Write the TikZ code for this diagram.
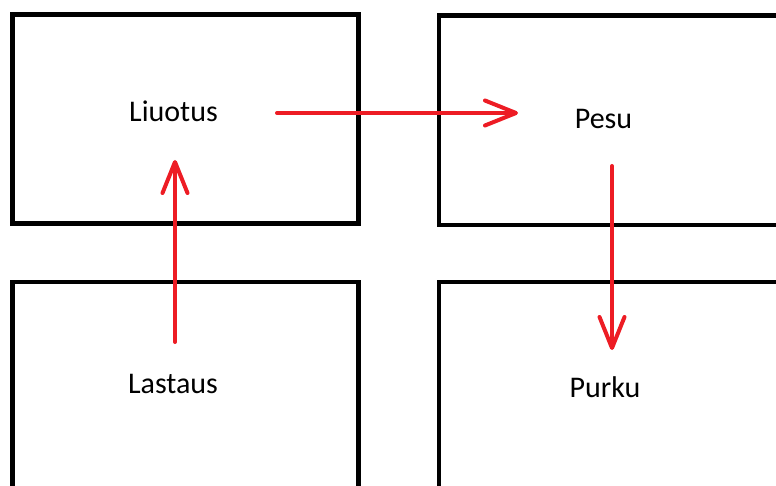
\documentclass[tikz,border=0pt]{standalone}
\usepackage{fontspec}
\setmainfont{Carlito}
\usetikzlibrary{arrows.meta, positioning}
\definecolor{paintred}{RGB}{237,28,36}

\begin{document}
\begin{tikzpicture}[x=1pt, y=-1pt,
    stage/.style={draw=black, line width=4.7pt},
    flow/.style={draw=paintred, line width=4pt, line cap=round, -{Straight Barb[length=31pt, width=25pt, line cap=round, line join=round]}},
    word/.style={text=black, font=\fontsize{30}{36}\selectfont, anchor=base, inner sep=0pt}]
    \useasboundingbox (0,0) rectangle (776,486);
    \clip (0,0) rectangle (776,486);
    \draw[stage] (12.5,14.5) rectangle (358.5,223.5);%upper left box
    \draw[stage] (439,15.5) rectangle (800,225);%upper right box
    \draw[stage] (12.5,282) rectangle (358.5,520);%lower left box
    \draw[stage] (439,282) rectangle (800,520);%lower right box
    \node (liuotus) [word] at (173.5,121.5) {Liuotus};%dissolving
    \node (pesu) [word] at (603.5,129) {Pesu};%washing
    \node (lastaus) [word] at (173,393.5) {Lastaus};%loading
    \node (purku) [word] at (605,397) {Purku};%unloading
    \coordinate (l-out) at (277,113);
    \coordinate (p-in) at (518,113);
    \coordinate (la-out) at (175,342);
    \coordinate (l-in) at (175,160);
    \coordinate (p-out) at (612,166);
    \coordinate (pu-in) at (612,350);
    \draw[flow] (l-out) to (p-in);%Liuotus to Pesu
    \draw[flow] (la-out) to (l-in);%Lastaus to Liuotus
    \draw[flow] (p-out) to (pu-in);%Pesu to Purku
\end{tikzpicture}
\end{document}
